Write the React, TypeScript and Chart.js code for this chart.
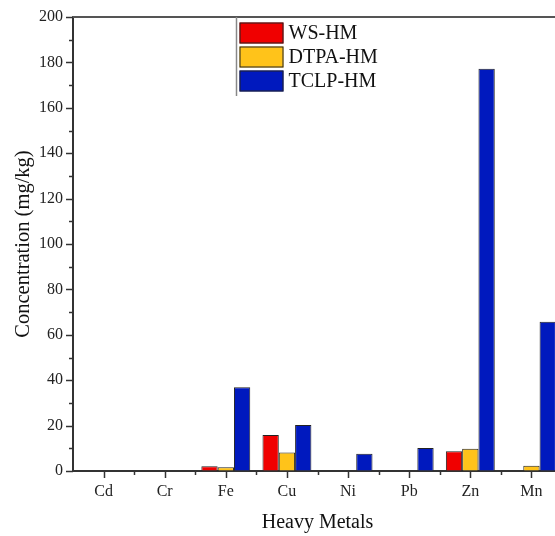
import React, { useEffect, useRef } from 'react';
import { Chart, registerables } from 'chart.js';

Chart.register(...registerables);

const categories = ['Cd', 'Cr', 'Fe', 'Cu', 'Ni', 'Pb', 'Zn', 'Mn'];
const wsHM = [0, 0, 2.1, 15.9, 0, 0, 8.7, 0];
const dtpaHM = [0, 0, 1.7, 8.2, 0, 0, 9.8, 2.3];
const tclpHM = [0, 0, 36.9, 20.3, 7.6, 10.1, 177.2, 65.8];
const seriesNames = ['WS-HM', 'DTPA-HM', 'TCLP-HM'];
const seriesColors = ['#F00000', '#FFC31A', '#0019BE'];
const yMin = 0;
const yMax = 200;
const yStep = 20;
const yMinorStep = 10;

const FONT = "'Liberation Serif', 'Times New Roman', serif";

const framePlugin = {
  id: 'framePlugin',
  afterDraw(chart: any) {
    const { ctx, chartArea } = chart;
    const { left, right, top, bottom } = chartArea;
    const ys = chart.scales.y;
    const xs = chart.scales.x;
    ctx.save();
    // frame top / right
    ctx.strokeStyle = '#555';
    ctx.lineWidth = 2;
    ctx.beginPath();
    ctx.moveTo(left - 1, top);
    ctx.lineTo(right, top);
    ctx.lineTo(right, bottom);
    ctx.stroke();
    // y ticks
    ctx.strokeStyle = '#333';
    ctx.lineWidth = 1.5;
    for (let v = yMin; v <= yMax; v += yMinorStep) {
      const y = Math.round(ys.getPixelForValue(v)) + 0.5;
      const len = v % yStep === 0 ? 7 : 4;
      ctx.beginPath();
      ctx.moveTo(left - len, y);
      ctx.lineTo(left, y);
      ctx.stroke();
    }
    // x ticks
    const n = categories.length;
    for (let i = 0; i < n; i++) {
      const x = Math.round(xs.getPixelForValue(i)) + 0.5;
      ctx.beginPath();
      ctx.moveTo(x, bottom);
      ctx.lineTo(x, bottom + 7);
      ctx.stroke();
    }
    for (let i = 1; i < n; i++) {
      const x = Math.round((xs.getPixelForValue(i - 1) + xs.getPixelForValue(i)) / 2) + 0.5;
      ctx.beginPath();
      ctx.moveTo(x, bottom);
      ctx.lineTo(x, bottom + 4);
      ctx.stroke();
    }
    // legend
    const lx = left + 163.5;
    const ly = top;
    ctx.strokeStyle = '#888';
    ctx.lineWidth = 1.5;
    ctx.beginPath();
    ctx.moveTo(lx, ly);
    ctx.lineTo(lx, ly + 79);
    ctx.stroke();
    ctx.font = `20px ${FONT}`;
    ctx.textBaseline = 'middle';
    ctx.textAlign = 'left';
    for (let i = 0; i < seriesNames.length; i++) {
      const by = ly + 5.5 + i * 24;
      ctx.fillStyle = seriesColors[i];
      ctx.fillRect(lx + 3, by, 44, 21);
      ctx.strokeStyle = '#222';
      ctx.lineWidth = 1;
      ctx.strokeRect(lx + 3.5, by + 0.5, 43, 20);
      ctx.fillStyle = '#111';
      ctx.fillText(seriesNames[i], lx + 52, by + 11);
    }
    ctx.restore();
  },
};

export default function App() {
  const ref = useRef<HTMLCanvasElement>(null);
  useEffect(() => {
    if (!ref.current) return;
    Chart.defaults.font.family = FONT;
    const chart = new Chart(ref.current, {
      type: 'bar',
      data: {
        labels: categories,
        datasets: [
          { label: seriesNames[0], data: wsHM, backgroundColor: seriesColors[0] },
          { label: seriesNames[1], data: dtpaHM, backgroundColor: seriesColors[1] },
          { label: seriesNames[2], data: tclpHM, backgroundColor: seriesColors[2] },
        ].map((d) => ({
          ...d,
          borderColor: '#222',
          borderWidth: 1,
          categoryPercentage: 0.8,
          barPercentage: 1.0,
        })),
      },
      options: {
        responsive: false,
        animation: false,
        layout: { padding: { top: 17, right: 18, bottom: 0, left: 0 } },
        plugins: {
          legend: { display: false },
          tooltip: { enabled: false },
        },
        scales: {
          x: {
            grid: { display: true, drawOnChartArea: false, tickColor: 'transparent', tickLength: 7 },
            border: { display: true, color: '#333', width: 2 },
            ticks: { color: '#222', font: { size: 16, family: FONT }, padding: 4 },
            title: {
              display: true,
              text: 'Heavy Metals',
              color: '#111',
              font: { size: 20, family: FONT },
              padding: { top: 2, bottom: 1 },
            },
            afterFit: (s: any) => {
              s.height = 65;
            },
          },
          y: {
            min: yMin,
            max: yMax,
            grid: { display: true, drawOnChartArea: false, tickColor: 'transparent', tickLength: 7 },
            border: { display: true, color: '#333', width: 2 },
            ticks: { stepSize: yStep, color: '#222', font: { size: 16, family: FONT }, padding: 3 },
            title: {
              display: true,
              text: 'Concentration (mg/kg)',
              color: '#111',
              font: { size: 20.5, family: FONT },
              padding: { top: 11, bottom: 0 },
            },
            afterFit: (s: any) => {
              s.width = 73;
            },
          },
        },
      },
      plugins: [framePlugin],
    });
    return () => chart.destroy();
  }, []);
  return (
    <div
      style={{
        position: 'fixed',
        left: 0,
        top: 0,
        width: 555,
        height: 536,
        overflow: 'hidden',
        background: '#fff',
      }}
    >
      <canvas ref={ref} width={580} height={536} style={{ display: 'block' }} />
    </div>
  );
}
